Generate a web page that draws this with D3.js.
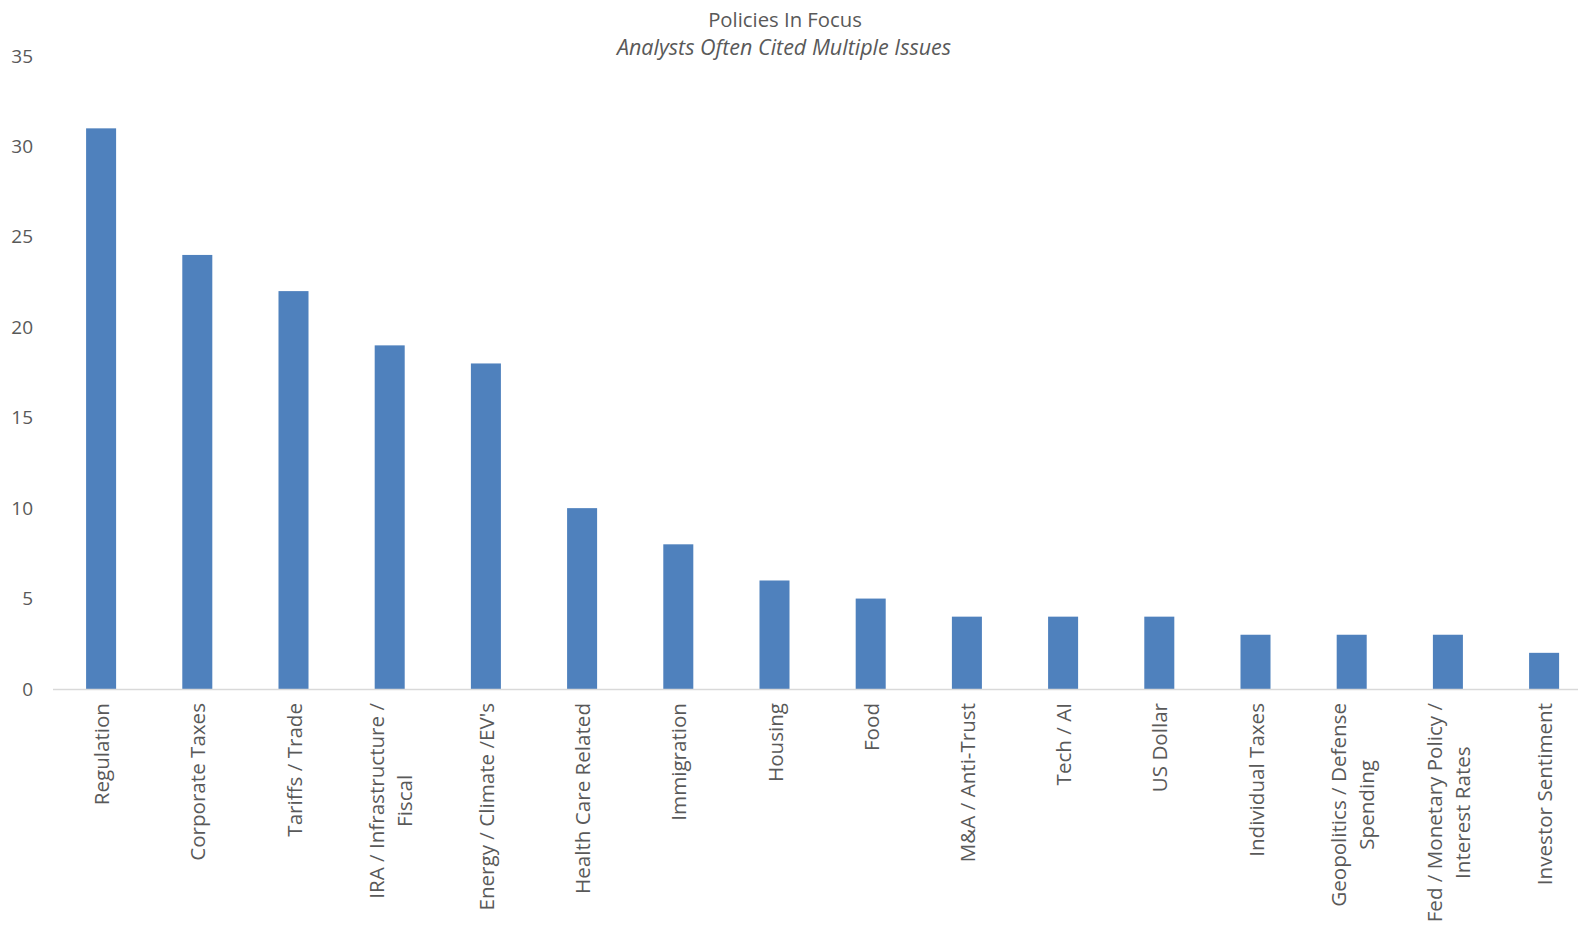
<!DOCTYPE html>
<html>
<head>
<meta charset="utf-8">
<script src="https://cdn.jsdelivr.net/npm/d3@7"></script>
<style>
  html, body { margin: 0; padding: 0; background: #ffffff; }
  svg { display: block; }
</style>
</head>
<body>
<svg id="chart" width="1578" height="926"></svg>
<script>
// Policy topics and how many analysts cited each one
const categories = [
  "Regulation",
  "Corporate Taxes",
  "Tariffs / Trade",
  "IRA / Infrastructure /\nFiscal",
  "Energy / Climate /EV's",
  "Health Care Related",
  "Immigration",
  "Housing",
  "Food",
  "M&A / Anti-Trust",
  "Tech / AI",
  "US Dollar",
  "Individual Taxes",
  "Geopolitics / Defense\nSpending",
  "Fed / Monetary Policy /\nInterest Rates",
  "Investor Sentiment"
];
const counts = [31, 24, 22, 19, 18, 10, 8, 6, 5, 4, 4, 4, 3, 3, 3, 2];
const yTicks = [0, 5, 10, 15, 20, 25, 30, 35];
const titleText = "Policies In Focus";
const subtitleText = "Analysts Often Cited Multiple Issues";

const svg = d3.select("#chart");
const textColor = "#595959";
const barColor = "#4F81BD";
const font = "'Open Sans', sans-serif";

const x = d3.scaleBand()
  .domain(categories)
  .range([53, 53 + 96.2 * categories.length])
  .paddingInner(0.688)
  .paddingOuter(0.344);

const y = d3.scaleLinear().domain([0, 35]).range([689, 56]);

// Title block
svg.append("text")
  .attr("x", 785).attr("y", 27)
  .attr("text-anchor", "middle")
  .attr("font-family", font)
  .attr("font-size", 20.3)
  .attr("fill", textColor)
  .text(titleText);
svg.append("text")
  .attr("x", 784).attr("y", 55)
  .attr("text-anchor", "middle")
  .attr("font-family", font)
  .attr("font-style", "italic")
  .attr("font-size", 21.5)
  .attr("fill", textColor)
  .text(subtitleText);

// Y axis labels only (no line, no ticks)
const yAxis = d3.axisLeft(y).tickValues(yTicks).tickSize(0).tickPadding(0);
const gy = svg.append("g").attr("transform", "translate(33,0)").call(yAxis);
gy.select(".domain").remove();
gy.selectAll("text")
  .attr("font-family", font)
  .attr("font-size", 19)
  .attr("fill", textColor);

// Bars
svg.append("g")
  .selectAll("rect")
  .data(counts)
  .join("rect")
  .attr("x", (d, i) => x(categories[i]))
  .attr("width", x.bandwidth())
  .attr("y", d => y(d))
  .attr("height", d => y(0) - y(d))
  .attr("fill", barColor);

// Baseline
svg.append("line")
  .attr("x1", 53).attr("x2", 1578)
  .attr("y1", y(0) + 0.5).attr("y2", y(0) + 0.5)
  .attr("stroke", "#d9d9d9")
  .attr("stroke-width", 1.5);

// Rotated category labels; multi-line labels are centred within their block
const labelTop = 703;
const lineGap = 28;
const gx = svg.append("g");
categories.forEach((cat, i) => {
  const cx = x(cat) + x.bandwidth() / 2;
  const lines = cat.split("\n");
  const g = gx.append("g");
  const texts = lines.map((ln, j) => g.append("text")
    .attr("font-family", font)
    .attr("font-size", 20.6)
    .attr("fill", textColor)
    .attr("text-anchor", "middle")
    .attr("dominant-baseline", "central")
    .text(ln));
  const w = d3.max(texts, t => t.node().getComputedTextLength());
  const mid = labelTop + w / 2;
  texts.forEach((t, j) => {
    const off = (j - (lines.length - 1) / 2) * lineGap;
    t.attr("transform", `translate(${cx + off},${mid}) rotate(-90)`);
  });
});
</script>
</body>
</html>
